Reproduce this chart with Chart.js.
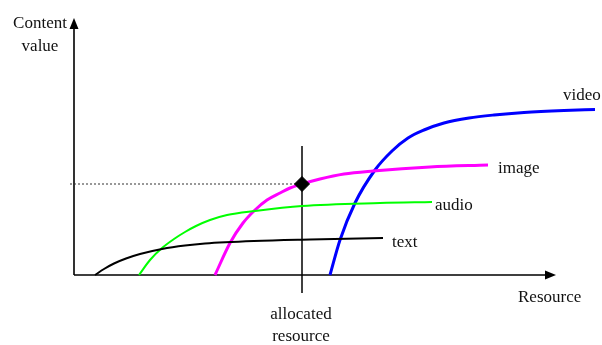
<!DOCTYPE html>
<html lang="en">
<head>
<meta charset="UTF-8">
<title>Content value vs resource</title>
<script src="https://cdn.jsdelivr.net/npm/chart.js"></script>
<style>
    body { margin: 0; background: #fff; }
    canvas { display: block; }
</style>
</head>
<body>
<canvas id="valueChart" width="602" height="345"></canvas>
<script>
// resource (x) and content value (y)
const textX  = [21, 30, 40, 52, 66, 88, 111, 131, 180, 236, 309];
const textY  = [0, 6, 11.5, 16.5, 21, 26, 29.5, 31.5, 34, 35.5, 37];
const audioX = [65, 76, 88, 100, 111, 122, 136, 153, 181, 228, 306, 358];
const audioY = [0, 15, 27, 36, 43, 49, 55, 60, 64, 69, 72, 73];
const imageX = [141, 156, 169, 181, 193, 206, 216, 228, 246, 270, 299, 356, 414];
const imageY = [0, 32, 52, 65, 75, 82, 87, 91, 96, 101, 104, 108, 110];
const videoX = [256, 266, 281, 301, 318, 334, 350, 370, 395, 420, 450, 490, 521];
const videoY = [0, 35, 72, 105, 124, 137, 145, 152, 157, 160, 162.5, 164.5, 165.5];

const allocated = 228;      // allocated resource
const allocatedValue = 91;  // image value at the allocated resource

const pts = (xs, ys) => xs.map((x, i) => ({ x: x, y: ys[i] }));

const curve = (label, xs, ys, color, width) => ({
    label: label,
    data: pts(xs, ys),
    borderColor: color,
    borderWidth: width,
    pointRadius: 0,
    showLine: true,
    cubicInterpolationMode: 'monotone',
    fill: false,
    order: 2
});

const serif = "17px 'Liberation Serif', 'DejaVu Serif', serif";

// axes with arrow heads and the text labels
const sketch = {
    id: 'sketch',
    beforeDatasetsDraw(chart) {
        const { ctx, scales: { x, y } } = chart;
        const ox = x.getPixelForValue(0), oy = y.getPixelForValue(0);
        ctx.save();
        ctx.strokeStyle = '#000';
        ctx.fillStyle = '#000';
        ctx.lineWidth = 1.6;
        ctx.beginPath();
        ctx.moveTo(ox, oy);
        ctx.lineTo(ox, 26);
        ctx.moveTo(ox, oy);
        ctx.lineTo(546, oy);
        ctx.stroke();
        ctx.beginPath();
        ctx.moveTo(ox, 18); ctx.lineTo(ox - 4.5, 29); ctx.lineTo(ox + 4.5, 29);
        ctx.closePath(); ctx.fill();
        ctx.beginPath();
        ctx.moveTo(556, oy); ctx.lineTo(545, oy - 4.5); ctx.lineTo(545, oy + 4.5);
        ctx.closePath(); ctx.fill();
        ctx.restore();
    },
    afterDatasetsDraw(chart) {
        const { ctx } = chart;
        ctx.save();
        ctx.fillStyle = '#111';
        ctx.font = serif;
        ctx.textAlign = 'center';
        ctx.fillText('Content', 40, 28);
        ctx.fillText('value', 40, 51);
        ctx.fillText('allocated', 301, 319);
        ctx.fillText('resource', 301, 341);
        ctx.textAlign = 'left';
        ctx.fillText('Resource', 518, 302);
        ctx.fillText('video', 563, 100);
        ctx.fillText('image', 498, 173);
        ctx.fillText('audio', 435, 210);
        ctx.fillText('text', 392, 247);
        ctx.restore();
    }
};

new Chart(document.getElementById('valueChart'), {
    type: 'scatter',
    data: {
        datasets: [
            {
                label: 'guide',
                data: [{ x: -4, y: allocatedValue }, { x: allocated, y: allocatedValue }],
                borderColor: '#333',
                borderWidth: 1,
                borderDash: [2, 2],
                pointRadius: 0,
                showLine: true,
                order: 3
            },
            {
                label: 'allocated',
                data: [{ x: allocated, y: -18 }, { x: allocated, y: 129 }],
                borderColor: '#000',
                borderWidth: 1.5,
                pointRadius: 0,
                showLine: true,
                order: 3
            },
            curve('text', textX, textY, '#000000', 2),
            curve('audio', audioX, audioY, '#00ff00', 2),
            curve('image', imageX, imageY, '#ff00ff', 3),
            curve('video', videoX, videoY, '#0000ff', 3),
            {
                label: 'point',
                data: [{ x: allocated, y: allocatedValue }],
                pointStyle: 'rectRot',
                pointRadius: 7.5,
                backgroundColor: '#000',
                borderColor: '#000',
                order: 0
            }
        ]
    },
    options: {
        responsive: false,
        animation: false,
        layout: { padding: 0, autoPadding: false },
        plugins: { legend: { display: false }, tooltip: { enabled: false } },
        scales: {
            x: { type: 'linear', min: -74, max: 528, display: false },
            y: { type: 'linear', min: -70, max: 275, display: false }
        }
    },
    plugins: [sketch]
});
</script>
</body>
</html>
